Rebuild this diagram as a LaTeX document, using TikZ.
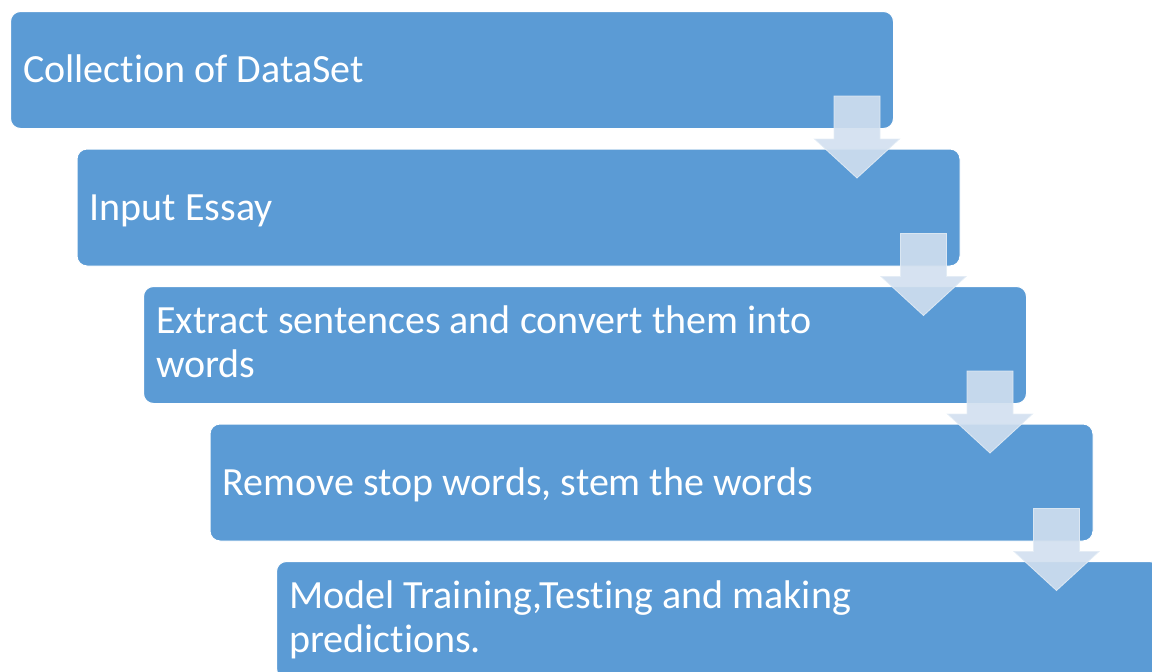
\documentclass[tikz,border=0pt]{standalone}
\usepackage{fontspec}
\setmainfont{Carlito}[Ligatures=NoCommon]
\usetikzlibrary{calc}
\definecolor{flowbox}{HTML}{5B9BD5}
\definecolor{flowarrow}{HTML}{D1DFEF}

\begin{document}
\begin{tikzpicture}[
  x=1pt,
  y=-1pt,
  every node/.style={font=\fontsize{40}{44}\selectfont, white},
  stage/.style={fill=flowbox, draw=white, line width=1pt, rounded corners=10pt,
    minimum width=883pt, minimum height=117pt, anchor=north west, inner sep=0pt},
  caption/.style={anchor=base west, inner sep=0pt, align=left},
  downarrow/.style={fill=flowarrow, fill opacity=0.9,
    draw=flowarrow!60!white, draw opacity=0.9, line width=0.8pt}
]
  \useasboundingbox (0,0) rectangle (1152,672);
  \clip (0,0) rectangle (1152,672);

  % ---- the five stages, stepping down to the right ---------------------
  \node[stage] (b1) at (10,11)      {};
  \node[stage] (b2) at (76.5,148.5) {};
  \node[stage] (b3) at (143,286)    {};
  \node[stage] (b4) at (209.5,423.5){};
  \node[stage] (b5) at (276,561)    {};

  % ---- stage texts (base anchor sits on the last line) -----------------
  \node[caption] (t1) at ([xshift=13pt, yshift=-12.5pt]b1.west) {Collection of DataSet};
  \node[caption] (t2) at ([xshift=13pt, yshift=-12.5pt]b2.west) {Input Essay};
  \node[caption] (t3) at ([xshift=13pt, yshift=-32.5pt]b3.west)
    {Extract sentences and convert them into\\words};
  \node[caption] (t4) at ([xshift=13pt, yshift=-12.5pt]b4.west) {Remove stop words, stem the words};
  \node[caption] (t5) at ([xshift=13pt, yshift=-32.5pt]b5.west)
    {Model Training,Testing and making\\predictions.};

  % ---- block arrows over each step -------------------------------------
  \foreach \i in {1,...,4} {
    \coordinate (d\i) at ([xshift=-37pt]b\i.south east);
    \filldraw[downarrow]
      ($(d\i)+(-23,-33)$) -- ($(d\i)+(23,-33)$) -- ($(d\i)+(23,10)$)
      -- ($(d\i)+(42.5,10)$) -- ($(d\i)+(0,49)$) -- ($(d\i)+(-42.5,10)$)
      -- ($(d\i)+(-23,10)$) -- cycle;
  }
\end{tikzpicture}
\end{document}
